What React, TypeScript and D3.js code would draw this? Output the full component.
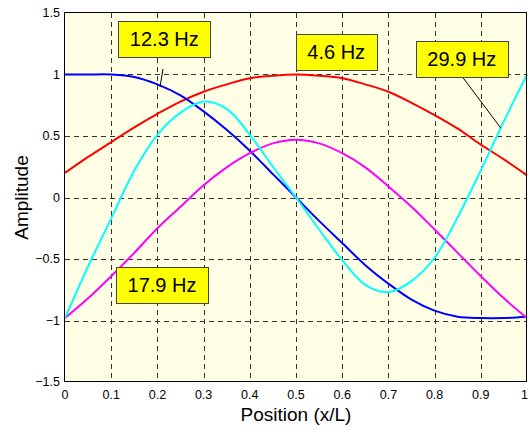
import React from "react";
import * as d3 from "d3";

// ---- data ----
const positions = [0, 0.05, 0.1, 0.15, 0.2, 0.25, 0.3, 0.35, 0.4, 0.45, 0.5, 0.55, 0.6, 0.65, 0.7, 0.75, 0.8, 0.85, 0.9, 0.95, 1.0];
const mode46 = [0.2, 0.33, 0.45, 0.57, 0.68, 0.78, 0.86, 0.92, 0.97, 0.99, 1.0, 0.99, 0.97, 0.92, 0.86, 0.77, 0.67, 0.56, 0.43, 0.31, 0.18];
const mode123 = [1.0, 1.0, 1.0, 0.98, 0.92, 0.83, 0.7, 0.55, 0.38, 0.19, 0.0, -0.19, -0.37, -0.55, -0.7, -0.83, -0.92, -0.97, -0.98, -0.98, -0.97];
const mode179 = [-0.98, -0.82, -0.64, -0.45, -0.25, -0.075, 0.1, 0.245, 0.36, 0.44, 0.47, 0.44, 0.36, 0.245, 0.09, -0.075, -0.26, -0.45, -0.64, -0.82, -0.98];
const mode299 = [-0.98, -0.56, -0.17, 0.22, 0.51, 0.69, 0.78, 0.72, 0.51, 0.25, 0.0, -0.26, -0.51, -0.71, -0.77, -0.68, -0.49, -0.16, 0.22, 0.62, 1.0];

const seriesNames = ["4.6 Hz", "12.3 Hz", "17.9 Hz", "29.9 Hz"];
const seriesValues = [mode46, mode123, mode179, mode299];
const seriesColors = ["#ff0000", "#0000ff", "#ff00ff", "#00ffff"];

const xTicks = [0, 0.1, 0.2, 0.3, 0.4, 0.5, 0.6, 0.7, 0.8, 0.9, 1];
const yTicks = [-1.5, -1, -0.5, 0, 0.5, 1, 1.5];

// annotation boxes: text, center (data coords)
const labelTexts = ["12.3 Hz", "4.6 Hz", "29.9 Hz", "17.9 Hz"];
const labelCx = [0.215, 0.587, 0.8589, 0.21];
const labelCy = [1.291, 1.183, 1.128, -0.714];
// leader lines (data coords)
const leaderX1 = [0.2121, 0.8587];
const leaderY1 = [1.0447, 0.988];
const leaderX2 = [0.2056, 0.9437];
const leaderY2 = [0.898, 0.5626];

const W = 528;
const H = 430;
const FONT = "Arial, 'Liberation Sans', Helvetica, sans-serif";

function textWidth(t: string, size: number) {
  const w: Record<string, number> = { "0": 556, "1": 556, "2": 556, "3": 556, "4": 556, "5": 556, "6": 556, "7": 556, "8": 556, "9": 556, ".": 278, " ": 278, H: 722, z: 500 };
  let s = 0;
  for (const c of t) s += w[c] ?? 556;
  return (s / 1000) * size;
}

export default function App() {
  const x = d3.scaleLinear().domain([0, 1]).range([65, 527]);
  const y = d3.scaleLinear().domain([-1.5, 1.5]).range([382, 13]);

  const line = d3
    .line<[number, number]>()
    .x((d) => x(d[0]))
    .y((d) => y(d[1]))
    .curve(d3.curveCatmullRom.alpha(0.5));

  const crisp = (v: number) => Math.round(v) + 0.5;
  const [x0, x1] = x.range();
  const [y0, y1] = y.range();

  return (
    <svg width={W} height={H} style={{ position: "absolute", left: 0, top: 0, background: "#fff" }} fontFamily={FONT}>
      <rect x={x0} y={y1} width={x1 - x0} height={y0 - y1} fill="#ffffe6" />
      {/* grid */}
      <g stroke="#333" strokeWidth={1} strokeDasharray="5,4" fill="none">
        {xTicks.slice(1, -1).map((t) => (
          <line key={"gx" + t} x1={crisp(x(t))} x2={crisp(x(t))} y1={y1} y2={y0} />
        ))}
        {yTicks.slice(1, -1).map((t) => (
          <line key={"gy" + t} x1={x0} x2={x1} y1={crisp(y(t))} y2={crisp(y(t))} />
        ))}
      </g>
      {/* curves */}
      <g fill="none" strokeWidth={2} strokeLinejoin="round">
        {seriesValues.map((vals, i) => (
          <path key={seriesNames[i]} d={line(positions.map((p, j) => [p, vals[j]]) as [number, number][]) || ""} stroke={seriesColors[i]} />
        ))}
      </g>
      {/* frame */}
      <rect x={crisp(x0) - 1} y={crisp(y1) - 1} width={Math.round(x1 - x0)} height={Math.round(y0 - y1)} fill="none" stroke="#000" strokeWidth={1} />
      {/* tick labels */}
      <g fontSize={12.5} fill="#000">
        {xTicks.map((t, i) => (
          <text key={"xl" + t} x={i === xTicks.length - 1 ? W : x(t)} y={399} textAnchor={i === xTicks.length - 1 ? "end" : "middle"}>
            {d3.format("")(t)}
          </text>
        ))}
        {yTicks.map((t) => (
          <text key={"yl" + t} x={60} y={y(t)} dy="0.35em" textAnchor="end">
            {d3.format("")(t)}
          </text>
        ))}
      </g>
      {/* axis titles */}
      <text x={(x0 + x1) / 2} y={421} textAnchor="middle" fontSize={19}>
        Position (x/L)
      </text>
      <text transform={`translate(27.5,${(y0 + y1) / 2}) rotate(-90)`} textAnchor="middle" fontSize={19}>
        Amplitude
      </text>
      {/* leader lines */}
      <g stroke="#000" strokeWidth={1}>
        {leaderX1.map((lx, i) => (
          <line key={"ld" + i} x1={x(lx)} y1={y(leaderY1[i])} x2={x(leaderX2[i])} y2={y(leaderY2[i])} />
        ))}
      </g>
      {/* label boxes */}
      {labelTexts.map((t, i) => {
        const cx = x(labelCx[i]);
        const cy = y(labelCy[i]);
        const bw = textWidth(t, 20) + 23;
        const bh = 36;
        return (
          <g key={t}>
            <rect x={Math.round(cx - bw / 2) + 0.5} y={Math.round(cy - bh / 2) + 0.5} width={Math.round(bw)} height={bh} fill="#ffff00" stroke="#444" strokeWidth={1} />
            <text x={cx} y={cy} dy="0.35em" textAnchor="middle" fontSize={20} fill="#000">
              {t}
            </text>
          </g>
        );
      })}
    </svg>
  );
}
